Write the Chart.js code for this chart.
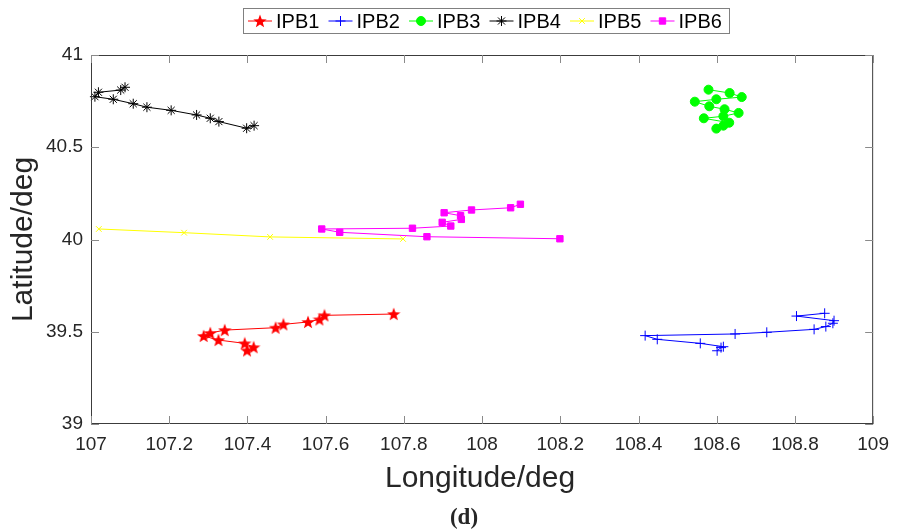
<!DOCTYPE html>
<html>
<head>
<meta charset="utf-8">
<script src="https://cdn.jsdelivr.net/npm/chart.js@4/dist/chart.umd.min.js"></script>
<style>
  html, body { margin: 0; padding: 0; background: #fff; }
  #wrap { width: 898px; height: 530px; position: relative; }
</style>
</head>
<body>
<div id="wrap"><canvas id="chart"></canvas></div>
<script>
// tracks (longitude / latitude, deg)
const ipb1Lon = [107.774, 107.597, 107.584, 107.555, 107.492, 107.472, 107.342, 107.305, 107.288, 107.326, 107.393, 107.416, 107.399];
const ipb1Lat = [39.596, 39.589, 39.567, 39.553, 39.540, 39.522, 39.509, 39.493, 39.477, 39.455, 39.437, 39.416, 39.399];

const ipb2Lon = [108.876, 108.804, 108.900, 108.897, 108.879, 108.849, 108.728, 108.647, 108.417, 108.448, 108.558, 108.617, 108.611, 108.601];
const ipb2Lat = [39.600, 39.585, 39.560, 39.546, 39.528, 39.513, 39.497, 39.488, 39.479, 39.459, 39.437, 39.419, 39.414, 39.397];

const ipb3Lon = [108.579, 108.633, 108.664, 108.599, 108.544, 108.581, 108.620, 108.656, 108.617, 108.567, 108.632, 108.617, 108.599];
const ipb3Lat = [40.812, 40.794, 40.772, 40.760, 40.747, 40.722, 40.706, 40.686, 40.668, 40.657, 40.633, 40.617, 40.601];

const ipb4Lon = [107.087, 107.076, 107.019, 107.010, 107.057, 107.108, 107.143, 107.205, 107.270, 107.305, 107.327, 107.398, 107.417];
const ipb4Lat = [40.825, 40.810, 40.798, 40.774, 40.760, 40.736, 40.717, 40.700, 40.675, 40.657, 40.639, 40.603, 40.617];

const ipb5Lon = [107.020, 107.238, 107.458, 107.798];
const ipb5Lat = [40.057, 40.037, 40.014, 40.003];

const ipb6Lon = [108.098, 108.073, 107.973, 107.903, 107.945, 107.947, 107.898, 107.920, 107.822, 107.590, 107.636, 107.859, 108.199];
const ipb6Lat = [40.191, 40.172, 40.160, 40.145, 40.129, 40.109, 40.093, 40.073, 40.061, 40.057, 40.039, 40.015, 40.004];

const seriesNames = ["IPB1", "IPB2", "IPB3", "IPB4", "IPB5", "IPB6"];
const xTicks = [107, 107.2, 107.4, 107.6, 107.8, 108, 108.2, 108.4, 108.6, 108.8, 109];
const yTicks = [39, 39.5, 40, 40.5, 41];

const toPoints = (lon, lat) => lon.map((x, i) => ({ x, y: lat[i] }));

// filled pentagram marker (matlab 'p')
const makePentagram = (size, color) => {
    const c = document.createElement("canvas");
    c.width = size;
    c.height = size;
    const g = c.getContext("2d");
    const cx = size / 2, cy = size / 2 + 0.6;
    const ro = size / 2, ri = ro * 0.42;
    g.beginPath();
    for (let i = 0; i < 10; i++) {
        const r = i % 2 ? ri : ro;
        const a = -Math.PI / 2 + i * Math.PI / 5;
        const px = cx + r * Math.cos(a), py = cy + r * Math.sin(a);
        if (i === 0) g.moveTo(px, py); else g.lineTo(px, py);
    }
    g.closePath();
    g.fillStyle = color;
    g.fill();
    return c;
};
const starImg = makePentagram(14, "#ff0000");

const styles = [
    { color: "#ff0000", pointStyle: starImg, radius: 7 },
    { color: "#0000ff", pointStyle: "cross", radius: 5 },
    { color: "#00ff00", pointStyle: "circle", radius: 4.5 },
    { color: "#000000", pointStyle: "star", radius: 5 },
    { color: "#ffff00", pointStyle: "crossRot", radius: 4 },
    { color: "#ff00ff", pointStyle: "rect", radius: 4.5 }
];

const tracks = [
    toPoints(ipb1Lon, ipb1Lat),
    toPoints(ipb2Lon, ipb2Lat),
    toPoints(ipb3Lon, ipb3Lat),
    toPoints(ipb4Lon, ipb4Lat),
    toPoints(ipb5Lon, ipb5Lat),
    toPoints(ipb6Lon, ipb6Lat)
];

const datasets = tracks.map((data, i) => ({
    label: seriesNames[i],
    data,
    showLine: true,
    borderColor: styles[i].color,
    backgroundColor: styles[i].color,
    borderWidth: 1,
    pointStyle: styles[i].pointStyle,
    pointRadius: styles[i].radius,
    pointBorderWidth: 1,
    pointBorderColor: styles[i].color,
    pointBackgroundColor: styles[i].color,
    clip: false
}));

const fmt = (v) => String(+Number(v).toFixed(1));
const textColor = "#262626";

const matlabFrame = {
    id: "matlabFrame",
    afterDraw(chart) {
        const { ctx, chartArea: a, scales } = chart;
        const xs = scales.x, ys = scales.y;
        ctx.save();

        // axes box + inward ticks
        ctx.strokeStyle = "#3c3c3c";
        ctx.lineWidth = 1;
        ctx.strokeRect(a.left + 0.5, a.top + 0.5, a.right - a.left - 1, a.bottom - a.top - 1);
        ctx.strokeStyle = "#8a8a8a";
        ctx.beginPath();
        xTicks.forEach((t) => {
            const px = Math.round(xs.getPixelForValue(t)) + 0.5;
            ctx.moveTo(px, a.bottom); ctx.lineTo(px, a.bottom - 8);
            ctx.moveTo(px, a.top); ctx.lineTo(px, a.top + 8);
        });
        yTicks.forEach((t) => {
            const py = Math.round(ys.getPixelForValue(t)) + 0.5;
            ctx.moveTo(a.left, py); ctx.lineTo(a.left + 8, py);
            ctx.moveTo(a.right, py); ctx.lineTo(a.right - 8, py);
        });
        ctx.stroke();

        // axis titles
        ctx.fillStyle = textColor;
        ctx.font = "30px 'Liberation Sans', Arial, sans-serif";
        ctx.textAlign = "center";
        ctx.textBaseline = "alphabetic";
        ctx.fillText("Longitude/deg", (a.left + a.right) / 2 - 2, 487);
        ctx.save();
        ctx.translate(32, (a.top + a.bottom) / 2);
        ctx.rotate(-Math.PI / 2);
        ctx.fillText("Latitude/deg", 0, 0);
        ctx.restore();

        // panel label
        ctx.font = "bold 23px 'Liberation Serif', 'Times New Roman', serif";
        ctx.fillText("(d)", 464, 524);

        // legend box
        const bx = 243, by = 8, bw = 486, bh = 25;
        ctx.fillStyle = "#fff";
        ctx.fillRect(bx, by, bw, bh);
        ctx.strokeStyle = "#808080";
        ctx.strokeRect(bx + 0.5, by + 0.5, bw, bh);
        const cy = by + bh / 2 + 0.5;
        chart.data.datasets.forEach((ds, i) => {
            const x0 = bx + 5 + i * 80.5;
            ctx.strokeStyle = ds.borderColor;
            ctx.fillStyle = ds.backgroundColor;
            ctx.lineWidth = 1;
            ctx.beginPath();
            ctx.moveTo(x0, cy);
            ctx.lineTo(x0 + 24, cy);
            ctx.stroke();
            Chart.helpers.drawPoint(ctx, {
                pointStyle: ds.pointStyle,
                radius: Math.min(ds.pointRadius, 5),
                rotation: 0,
                borderWidth: 1
            }, x0 + 12, cy);
            ctx.fillStyle = "#000";
            ctx.font = "20px 'Liberation Sans', Arial, sans-serif";
            ctx.textAlign = "left";
            ctx.textBaseline = "middle";
            ctx.fillText(ds.label, x0 + 28, cy + 1);
        });
        ctx.restore();
    }
};

new Chart(document.getElementById("chart"), {
    type: "scatter",
    data: { datasets },
    options: {
        responsive: true,
        maintainAspectRatio: false,
        animation: false,
        events: [],
        layout: { padding: { top: 55, right: 21, left: 0, bottom: 0 } },
        plugins: {
            legend: { display: false },
            tooltip: { enabled: false }
        },
        scales: {
            x: {
                type: "linear",
                min: 107,
                max: 109,
                afterBuildTicks: (scale) => { scale.ticks = xTicks.map((value) => ({ value })); },
                afterFit: (scale) => { scale.height = 106; },
                grid: { display: false, drawTicks: false },
                border: { display: false },
                ticks: {
                    padding: 9,
                    color: textColor,
                    font: { family: "'Liberation Sans', Arial, sans-serif", size: 19 },
                    maxRotation: 0,
                    autoSkip: false,
                    callback: fmt
                }
            },
            y: {
                type: "linear",
                min: 39,
                max: 41,
                afterBuildTicks: (scale) => { scale.ticks = yTicks.map((value) => ({ value })); },
                afterFit: (scale) => { scale.width = 91; },
                grid: { display: false, drawTicks: false },
                border: { display: false },
                ticks: {
                    padding: 8,
                    color: textColor,
                    font: { family: "'Liberation Sans', Arial, sans-serif", size: 19 },
                    autoSkip: false,
                    callback: fmt
                }
            }
        }
    },
    plugins: [matlabFrame]
});
</script>
</body>
</html>
